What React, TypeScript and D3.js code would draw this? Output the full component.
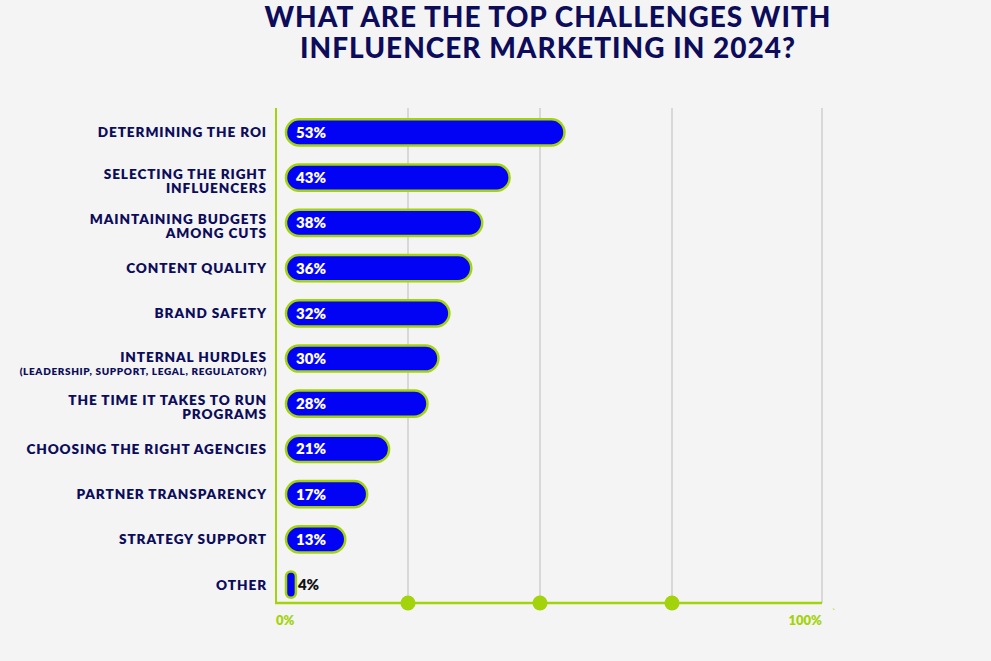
import React from "react";
import * as d3 from "d3";

const categories: string[][] = [
  ["DETERMINING THE ROI"],
  ["SELECTING THE RIGHT", "INFLUENCERS"],
  ["MAINTAINING BUDGETS", "AMONG CUTS"],
  ["CONTENT QUALITY"],
  ["BRAND SAFETY"],
  ["INTERNAL HURDLES"],
  ["THE TIME IT TAKES TO RUN", "PROGRAMS"],
  ["CHOOSING THE RIGHT AGENCIES"],
  ["PARTNER TRANSPARENCY"],
  ["STRATEGY SUPPORT"],
  ["OTHER"],
];
const subLabels: string[] = ["", "", "", "", "", "(LEADERSHIP, SUPPORT, LEGAL, REGULATORY)", "", "", "", "", ""];
const values: number[] = [53, 43, 38, 36, 32, 30, 28, 21, 17, 13, 4];
const gridTicks: number[] = [25, 50, 75];
const axisLabels: string[] = ["0%", "100%"];
const titleLines: string[] = ["WHAT ARE THE TOP CHALLENGES WITH", "INFLUENCER MARKETING IN 2024?"];

const W = 991;
const H = 661;
const NAVY = "#0c0c5a";
const GREEN = "#a3d30a";
const BLUE = "#0202f5";
const FONT = "Lato, 'Open Sans', sans-serif";

export default function App() {
  const idx = values.map((_, i) => i);
  const y = d3.scaleBand<number>().domain(idx).range([108, 609]).paddingInner(0.42).paddingOuter(0.25);
  // bar length scale as drawn in the infographic (bars start at 286)
  const x = d3.scaleLinear().domain([0, 100]).range([274, 822]);
  const grid = d3.scaleLinear().domain([0, 100]).range([276, 804]);
  const axisY = 603;
  const left = 276;
  const right = 822;
  const bh = y.bandwidth();
  const barStart = 286;

  return (
    <div style={{ position: "absolute", left: 0, top: 0, width: W, height: H }}>
      <svg width={W} height={H} style={{ display: "block", background: "#f4f4f4" }}>
        <rect x={0} y={0} width={W} height={H} fill="#f4f4f4" />
        {titleLines.map((t, i) => (
          <text key={i} x={548} y={26.5 + i * 31.5} textAnchor="middle" fontFamily={FONT} fontWeight={900}
            fontSize={28} fill={NAVY} letterSpacing={1}>{t}</text>
        ))}
        {gridTicks.map((g) => (
          <line key={g} x1={Math.round(grid(g))} x2={Math.round(grid(g))} y1={108} y2={axisY} stroke="#cfcfcf" strokeWidth={1.5} />
        ))}
        <line x1={right} x2={right} y1={108} y2={axisY} stroke="#cfcfcf" strokeWidth={1.5} />
        <line x1={left} x2={left} y1={108} y2={axisY + 1} stroke={GREEN} strokeWidth={2} />
        <line x1={left - 1} x2={right} y1={axisY} y2={axisY} stroke={GREEN} strokeWidth={2.5} />
        {gridTicks.map((g) => (
          <circle key={"c" + g} cx={Math.round(grid(g))} cy={axisY} r={7.5} fill={GREEN} />
        ))}
        <text x={left} y={625} fontFamily={FONT} fontWeight={800} fontSize={13} fill={GREEN}>{axisLabels[0]}</text>
        <text x={right} y={625} textAnchor="end" fontFamily={FONT} fontWeight={800} fontSize={13} fill={GREEN}>{axisLabels[1]}</text>
        <text x={832} y={616} fontFamily={FONT} fontSize={10} fill={GREEN}>`</text>
        {values.map((v, i) => {
          const y0 = y(i)!;
          const cy = y0 + bh / 2;
          const w = Math.max(x(v) - barStart, 8);
          const lines = categories[i];
          const sub = subLabels[i];
          const lh = 14.2;
          const firstY = sub ? cy + 3 : lines.length > 1 ? cy + 1 : cy + 5;
          return (
            <g key={i}>
              <rect x={barStart} y={y0} width={w} height={bh} rx={Math.min(bh / 2, w / 2)} fill={BLUE} stroke={GREEN} strokeWidth={2.5} />
              {v >= 10 ? (
                <text x={barStart + 10} y={cy + 5.5} fontFamily={FONT} fontWeight={800} fontSize={15} fill="#ffffff">{v}%</text>
              ) : (
                <text x={barStart + w + 2} y={cy + 5.5} fontFamily={FONT} fontWeight={800} fontSize={15} fill="#111111">{v}%</text>
              )}
              {lines.map((l, j) => (
                <text key={j} x={267} y={firstY + j * lh} textAnchor="end" fontFamily={FONT} fontWeight={800}
                  fontSize={13.6} fill={NAVY} letterSpacing={0.9}>{l}</text>
              ))}
              {sub && (
                <text x={267} y={cy + 16.5} textAnchor="end" fontFamily={FONT} fontWeight={800} fontSize={10}
                  fill={NAVY} letterSpacing={0.65}>{sub}</text>
              )}
            </g>
          );
        })}
      </svg>
    </div>
  );
}
